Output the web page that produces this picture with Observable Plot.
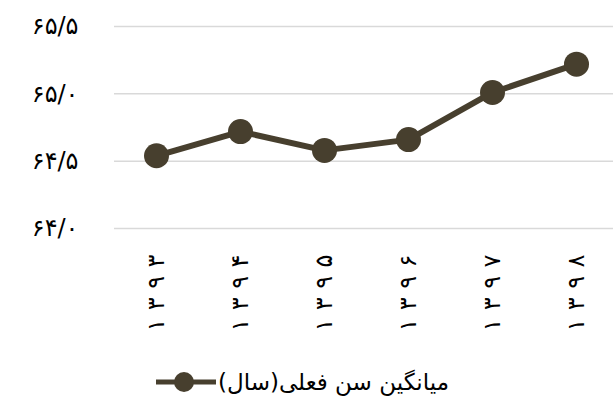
<!DOCTYPE html>
<html><head><meta charset="utf-8">
<script src="https://cdn.jsdelivr.net/npm/d3@7"></script>
<script src="https://cdn.jsdelivr.net/npm/@observablehq/plot@0.6"></script>
<style>
body{margin:0;background:#fff;font-family:"DejaVu Sans",sans-serif;width:613px;height:405px;overflow:hidden;}
#legend{display:flex;justify-content:center;align-items:center;height:46px;margin-top:14px;direction:ltr;margin-left:-8px;}
#legend span{font-size:23px;color:#000;direction:rtl;unicode-bidi:isolate;margin-left:2px;}
</style></head><body><div id="chart"></div><div id="legend"></div>
<script>
const years = ["۱۳۹۳","۱۳۹۴","۱۳۹۵","۱۳۹۶","۱۳۹۷","۱۳۹۸"];
const values = [64.54, 64.72, 64.58, 64.66, 65.01, 65.22];
const yTicks = [64.0, 64.5, 65.0, 65.5];
const yTickLabels = ["۶۴/۰","۶۴/۵","۶۵/۰","۶۵/۵"];
const seriesName = "میانگین سن فعلی(سال)";
const color = "#473f2e";
const data = years.map((y, i) => ({year: y, value: values[i]}));

const chart = Plot.plot({
  width: 613, height: 345,
  marginLeft: 114, marginRight: 0, marginTop: 26, marginBottom: 117,
  style: {fontFamily: "DejaVu Sans", background: "#fff", overflow: "visible"},
  x: {type: "point", domain: years, padding: 0, insetLeft: 42, insetRight: 37, label: null},
  y: {domain: [64, 65.5], label: null},
  marks: [
    Plot.ruleY(yTicks, {stroke: "#d9d9d9", strokeWidth: 1.5}),
    Plot.axisY(yTicks, {tickSize: 0, tickPadding: 36, fontSize: 24, fill: "#000",
      tickFormat: d => yTickLabels[yTicks.indexOf(d)], label: null}),
    Plot.axisX({tickSize: 0, tickRotate: -90, tickPadding: 26, fontSize: 24, fill: "#000", label: null}),
    Plot.line(data, {x: "year", y: "value", stroke: color, strokeWidth: 6}),
    Plot.dot(data, {x: "year", y: "value", r: 12.5, fill: color, stroke: null})
  ]
});
// spread the digits of the rotated year labels
d3.select(chart).selectAll('g[aria-label="x-axis tick label"] text').each(function() {
  const t = d3.select(this);
  const s = t.text();
  t.text(null);
  Array.from(s).forEach((ch, i) => {
    t.append("tspan").attr("dx", i ? 8.5 : 0).text(ch);
  });
});
document.getElementById("chart").appendChild(chart);

const legend = document.getElementById("legend");
const sym = d3.create("svg").attr("width", 60).attr("height", 24);
sym.append("line").attr("x1", 0).attr("x2", 60).attr("y1", 12).attr("y2", 12)
  .attr("stroke", color).attr("stroke-width", 5);
sym.append("circle").attr("cx", 28).attr("cy", 12).attr("r", 10).attr("fill", color);
legend.appendChild(sym.node());
const span = document.createElement("span");
span.textContent = seriesName;
legend.appendChild(span);
</script>
</body></html>
